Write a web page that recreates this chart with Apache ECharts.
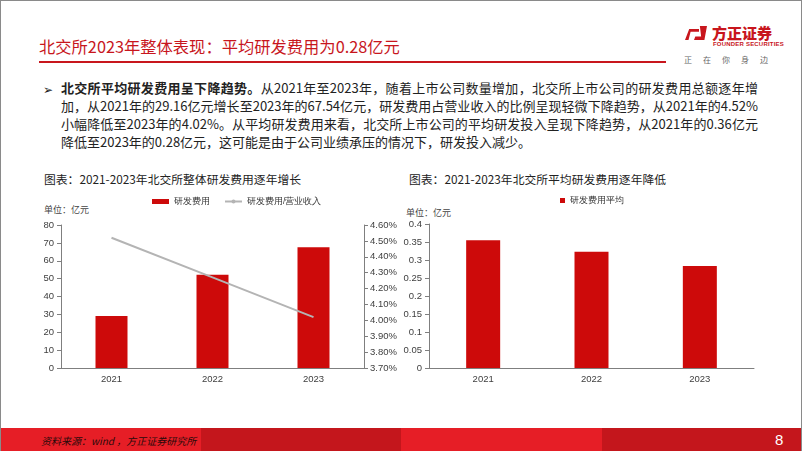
<!DOCTYPE html>
<html><head><meta charset="utf-8">
<script src="https://cdn.jsdelivr.net/npm/echarts@6/dist/echarts.min.js"></script>
<style>
html,body{margin:0;padding:0;background:#fff;}
#page{position:relative;width:802px;height:451px;overflow:hidden;box-sizing:border-box;border:1px solid #8a8a8a;border-bottom:none;font-family:"Noto Sans CJK SC","Liberation Sans",sans-serif;}
#chart{position:absolute;left:0;top:0;width:802px;height:451px;}
.abs{position:absolute;white-space:nowrap;}
#title{left:38px;top:33px;font-size:16.3px;color:#c8161d;font-family:"Liberation Sans Narrow","Noto Sans CJK SC",sans-serif;}
#rule{left:38px;top:60px;width:627px;height:2px;background:#c8161d;}
.ln{position:absolute;left:60px;width:697px;font-size:13px;color:#222;text-align:justify;text-align-last:justify;white-space:nowrap;font-family:"Liberation Sans Narrow","Noto Sans CJK SC",sans-serif;line-height:16px;}
#arrow{left:42px;top:79px;font-size:12px;color:#222;}
.ct{font-size:11.8px;color:#222;font-weight:400;}
.unit{font-size:9px;color:#444;}
#foot{position:absolute;left:0;top:427px;width:802px;height:24px;}
#foot div{position:absolute;top:0;height:24px;}
</style></head>
<body><div id="page">
<div class="abs" id="title">北交所2023年整体表现：平均研发费用为0.28亿元</div>
<div class="abs" id="rule"></div>
<!-- logo -->
<div class="abs" style="left:684px;top:25px;width:22px;height:14px;">
  <div style="position:absolute;left:0;top:3px;width:14px;height:11px;background:#c8161d;clip-path:polygon(30% 0,100% 0,100% 25%,40% 25%,25% 100%,0 100%);"></div>
  <div style="position:absolute;left:9px;top:0;width:13px;height:14px;background:#c8161d;clip-path:polygon(45% 0,100% 0,80% 100%,0 100%,10% 75%,55% 75%);"></div>
</div>
<div class="abs" style="left:711px;top:21px;font-size:15px;font-weight:900;color:#c8161d;letter-spacing:0px;">方正证券</div>
<div class="abs" style="left:712px;top:40px;font-size:6px;font-weight:700;color:#c8161d;font-family:'Liberation Sans Narrow','Liberation Sans',sans-serif;letter-spacing:0.2px;">FOUNDER SECURITIES</div>
<div class="abs" style="left:683px;top:53px;font-size:8px;color:#666;letter-spacing:11px;">正在你身边</div>

<div class="abs" id="arrow">➢</div>
<div class="ln" style="top:79px;"><b>北交所平均研发费用呈下降趋势。</b>从2021年至2023年，随着上市公司数量增加，北交所上市公司的研发费用总额逐年增</div>
<div class="ln" style="top:97px;">加，从2021年的29.16亿元增长至2023年的67.54亿元，研发费用占营业收入的比例呈现轻微下降趋势，从2021年的4.52%</div>
<div class="ln" style="top:115px;">小幅降低至2023年的4.02%。从平均研发费用来看，北交所上市公司的平均研发投入呈现下降趋势，从2021年的0.36亿元</div>
<div class="ln" style="top:133px;width:auto;text-align:left;text-align-last:left;">降低至2023年的0.28亿元，这可能是由于公司业绩承压的情况下，研发投入减少。</div>

<div class="abs ct" style="left:43px;top:169px;">图表：2021-2023年北交所整体研发费用逐年增长</div>
<div class="abs unit" style="left:43px;top:202px;">单位：亿元</div>
<div class="abs ct" style="left:408px;top:169px;">图表：2021-2023年北交所平均研发费用逐年降低</div>
<div class="abs unit" style="left:405px;top:205px;">单位：亿元</div>

<div id="chart"></div>

<div id="foot">
  <div style="left:0;width:200px;background:#e61e26;"></div>
  <div style="left:200px;width:200px;background:#c4161c;"></div>
  <div style="left:400px;width:201px;background:#e61e26;"></div>
  <div style="left:601px;width:201px;background:#c4161c;"></div>
  <div style="left:40px;top:5px;height:auto;font-size:10px;font-style:italic;color:#2a0a0a;white-space:nowrap;">资料来源：wind ，方正证券研究所</div>
  <div style="left:774px;top:3px;height:auto;font-size:15px;color:#fff;font-family:'Liberation Sans',sans-serif;">8</div>
</div>
</div>
<script>
const years = ['2021', '2022', '2023'];
const rdExpense = [29.16, 52.2, 67.54];
const rdRatio = [4.52, 4.27, 4.02];
const rdAverage = [0.355, 0.323, 0.283];

const axisColor = '#7f7f7f';
const labelStyle = {color: '#404040', fontSize: 9.5, fontFamily: 'Liberation Sans, Arial, sans-serif'};
const red = '#cd0a0a';

const chart = echarts.init(document.getElementById('chart'), null, {renderer: 'canvas'});
chart.setOption({
  animation: false,
  backgroundColor: 'transparent',
  legend: [
    {left: 146, top: 191, itemWidth: 17, itemHeight: 5, itemGap: 14,
     textStyle: {fontSize: 8.5, color: '#333'},
     data: [{name: '研发费用', icon: 'rect'}, {name: '研发费用/营业收入'}]},
    {left: 554, top: 190, itemWidth: 5, itemHeight: 5,
     textStyle: {fontSize: 8.5, color: '#333'},
     data: [{name: '研发费用平均', icon: 'rect'}]}
  ],
  grid: [
    {left: 60, top: 224, width: 303, height: 143},
    {left: 428, top: 223, width: 325, height: 144}
  ],
  xAxis: [
    {type: 'category', gridIndex: 0, data: years,
     axisLine: {lineStyle: {color: axisColor}}, axisTick: {lineStyle: {color: axisColor}, length: 4},
     axisLabel: Object.assign({margin: 6}, labelStyle)},
    {type: 'category', gridIndex: 1, data: years,
     axisLine: {lineStyle: {color: axisColor}}, axisTick: {lineStyle: {color: axisColor}, length: 4},
     axisLabel: Object.assign({margin: 6}, labelStyle)}
  ],
  yAxis: [
    {type: 'value', gridIndex: 0, min: 0, max: 80, interval: 10,
     axisLine: {show: true, lineStyle: {color: axisColor}}, axisTick: {show: true, length: 4, lineStyle: {color: axisColor}},
     splitLine: {show: false}, axisLabel: Object.assign({margin: 7}, labelStyle)},
    {type: 'value', gridIndex: 0, position: 'right', min: 3.7, max: 4.6, interval: 0.1,
     axisLine: {show: true, lineStyle: {color: axisColor}}, axisTick: {show: true, length: 4, lineStyle: {color: axisColor}},
     splitLine: {show: false},
     axisLabel: Object.assign({margin: 6, formatter: v => v.toFixed(2) + '%'}, labelStyle)},
    {type: 'value', gridIndex: 1, min: 0, max: 0.4, interval: 0.05,
     axisLine: {show: true, lineStyle: {color: axisColor}}, axisTick: {show: true, length: 4, lineStyle: {color: axisColor}},
     splitLine: {show: false},
     axisLabel: Object.assign({margin: 7, formatter: v => String(parseFloat(v.toFixed(2)))}, labelStyle)}
  ],
  series: [
    {name: '研发费用', type: 'bar', xAxisIndex: 0, yAxisIndex: 0, data: rdExpense,
     barWidth: 32, itemStyle: {color: red}},
    {name: '研发费用/营业收入', type: 'line', xAxisIndex: 0, yAxisIndex: 1, data: rdRatio,
     symbol: 'none', lineStyle: {color: '#b4b4b4', width: 2}, itemStyle: {color: '#b4b4b4'}},
    {name: '研发费用平均', type: 'bar', xAxisIndex: 1, yAxisIndex: 2, data: rdAverage,
     barWidth: 34, itemStyle: {color: red}}
  ]
});
</script>
</body></html>
